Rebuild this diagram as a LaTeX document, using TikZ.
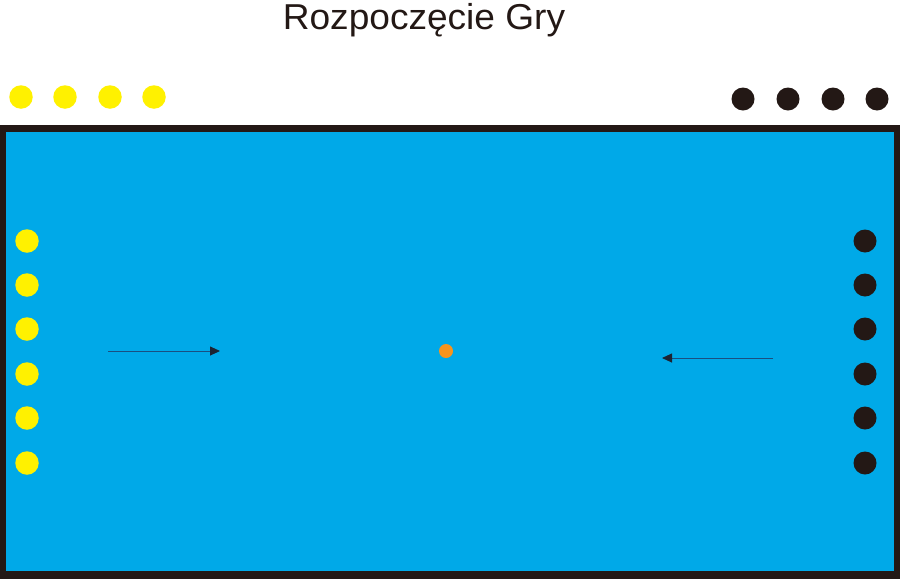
\documentclass[tikz,border=0pt]{standalone}
\usepackage{fontspec}
\setmainfont{Liberation Sans}
\usetikzlibrary{arrows.meta}
\definecolor{pool}{HTML}{00A9E8}
\definecolor{frame}{HTML}{231815}
\definecolor{ylw}{HTML}{FFF100}
\definecolor{ball}{HTML}{F7941D}
\definecolor{arrowline}{HTML}{1A4F80}
\definecolor{tip}{HTML}{1C2433}
\tikzset{
  ydot/.style={circle,fill=ylw,inner sep=0pt,minimum size=23.5pt},
  bdot/.style={circle,fill=frame,inner sep=0pt,minimum size=23pt},
  swim/.style={draw=arrowline,line width=0.9pt,-{Triangle[length=10pt,width=9pt,fill=tip,color=tip]}},
}
\begin{document}
\begin{tikzpicture}[x=1pt,y=-1pt]
\useasboundingbox (0,0) rectangle (900,579);
\fill[white] (0,0) rectangle (900,579);
% pool
\fill[frame] (0,125) rectangle (900,579);
\fill[pool] (6,132) rectangle (894,571);
% title
\node[font=\fontsize{36}{40}\selectfont,text=frame,xscale=1.03,inner sep=0pt,anchor=base] (title) at (424,29.5) {Rozpoczęcie Gry};
% top reserve players
\foreach \x [count=\i] in {21,65,110,154} \node[ydot] (ty\i) at (\x,97) {};
\foreach \x [count=\i] in {743,788,833,877} \node[bdot] (tb\i) at (\x,99) {};
% players in water
\foreach \y [count=\i] in {241,285,329,374,418,463} {
  \node[ydot] (y\i) at (27,\y) {};
  \node[bdot] (b\i) at (865,\y) {};
}
% ball
\node[circle,fill=ball,inner sep=0pt,minimum size=14pt] (ball) at (446,351) {};
% swim arrows
\coordinate (la) at (108,351);
\coordinate (lb) at (220,351);
\coordinate (ra) at (773,358);
\coordinate (rb) at (662,358);
\draw[swim] (la) -- (lb);
\draw[swim] (ra) -- (rb);
\end{tikzpicture}
\end{document}
